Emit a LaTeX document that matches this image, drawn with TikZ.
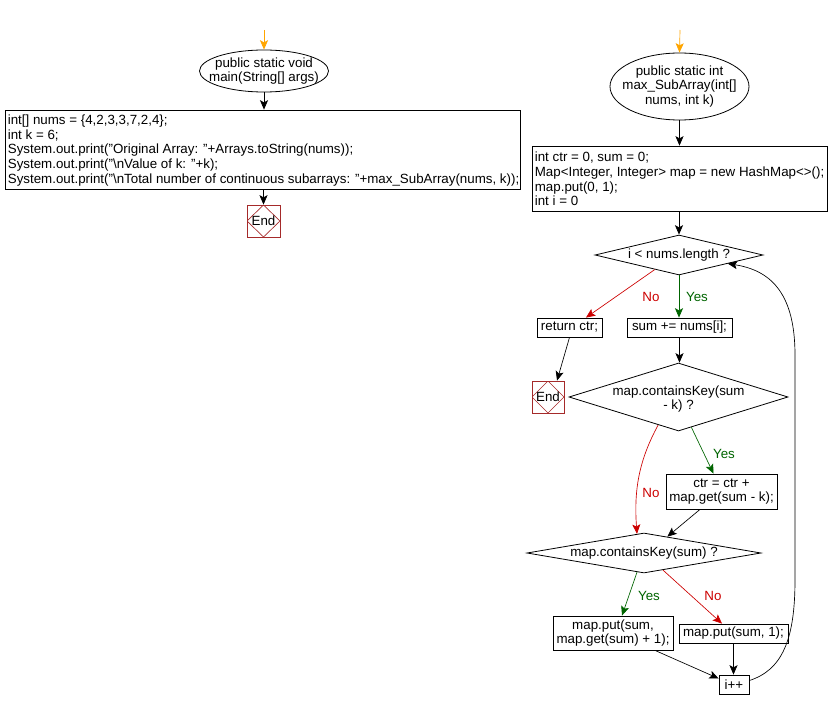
\documentclass[tikz,border=0pt]{standalone}
\usepackage{fontspec}
\setmainfont{Liberation Sans}
\usetikzlibrary{shapes.geometric,arrows.meta,calc}
\definecolor{noRed}{RGB}{204,0,0}
\definecolor{yesGreen}{RGB}{0,100,0}
\definecolor{startOrange}{RGB}{255,165,0}
\definecolor{endRed}{RGB}{165,42,42}
\tikzset{
  every node/.style={font=\fontsize{10}{10.9}\selectfont},
  box/.style={draw, rectangle, inner sep=0pt, line width=0.6pt, align=center},
  codebox/.style={draw, rectangle, inner sep=0pt, line width=0.6pt},
  codetxt/.style={inner sep=0pt, align=left, anchor=west},
  oval/.style={draw, ellipse, inner sep=0pt, line width=0.6pt},
  dec/.style={draw, diamond, inner sep=0pt, line width=0.6pt},
  txt/.style={inner sep=0pt, align=center},
  endbox/.style={draw=endRed, rectangle, minimum width=24.75pt, minimum height=24pt, inner sep=0pt, line width=0.6pt,
    path picture={\draw[endRed, line width=0.5pt] (path picture bounding box.north) -- (path picture bounding box.east) -- (path picture bounding box.south) -- (path picture bounding box.west) -- cycle;}},
  arr/.style={-{Stealth[length=7pt,width=6pt,inset=1.5pt]}, line width=0.5pt},
  lab/.style={inner sep=0pt},
}
\begin{document}
\begin{tikzpicture}[x=0.75pt,y=-0.75pt]
\useasboundingbox (0,0) rectangle (829,710);

% ---------- main ----------
\coordinate (s1) at (264,30);
\node[oval, minimum width=96.75pt, minimum height=31.5pt] (e1) at (264,71) {};
\node[txt] (e1t) at (264,71) {public static void\\main(String[] args)};
\node[codebox, minimum width=386.25pt, minimum height=59.25pt] (b1) at (262.5,149.5) {};
\node[codetxt] (b1t) at ($(b1.west)+(3,1)$)
  {int[] nums = \{4,2,3,3,7,2,4\};\\
   int k = 6;\\
   System.out.print("Original Array: "+Arrays.toString(nums));\\
   System.out.print("\textbackslash nValue of k: "+k);\\
   System.out.print("\textbackslash nTotal number of continuous subarrays: "+max\_SubArray(nums, k));};
\node[endbox] (end1) at (263.5,221) {End};

\draw[arr, startOrange] (s1) -- (e1.north);
\draw[arr] (e1.south) -- (e1.south |- b1.north);
\draw[arr] (end1.north |- b1.south) -- (end1.north);

% ---------- max_SubArray ----------
\coordinate (s2) at (680,30);
\node[oval, minimum width=104.25pt, minimum height=50.25pt] (e2) at (679.5,86.5) {};
\node[txt] (e2t) at (679.5,86.5) {public static int\\max\_SubArray(int[]\\nums, int k)};
\node[codebox, minimum width=221.25pt, minimum height=48.75pt] (b2) at (679.5,178.5) {};
\node[codetxt] (b2t) at ($(b2.west)+(3,0.5)$)
  {int ctr = 0, sum = 0;\\
   Map<Integer, Integer> map = new HashMap<>();\\
   map.put(0, 1);\\
   int i = 0};
\node[dec, minimum width=126pt, minimum height=30pt] (d1) at (679,255) {};
\node[txt] (d1t) at (679,255) {i < nums.length ?};
\node[box, minimum width=48.75pt, minimum height=14.25pt] (ret) at (569.5,327.5) {return ctr;};
\node[box, minimum width=78.75pt, minimum height=14.25pt] (sum) at (679.5,327.5) {sum += nums[i];};
\node[endbox, minimum width=24pt] (end2) at (548,397) {End};
\node[dec, minimum width=164.25pt, minimum height=51pt] (d2) at (678.5,397) {};
\node[txt] (d2t) at (678.5,399) {map.containsKey(sum\\- k) ?};
\node[box, minimum width=83.25pt, minimum height=26.25pt] (ctr) at (721.5,491.5) {ctr = ctr +\\map.get(sum - k);};
\node[dec, minimum width=175.5pt, minimum height=30pt] (d3) at (644,553) {};
\node[txt] (d3t) at (644,553) {map.containsKey(sum) ?};
\node[box, minimum width=90pt, minimum height=25.5pt] (mp2) at (613,633) {map.put(sum,\\map.get(sum) + 1);};
\node[box, minimum width=81.75pt, minimum height=14.25pt] (mp1) at (733.5,633.5) {map.put(sum, 1);};
\node[box, minimum width=22.5pt, minimum height=14.25pt] (ipp) at (734,684.5) {i++};

% labels
\node[lab, text=noRed] (l1) at (651,297) {No};
\node[lab, text=yesGreen] (l2) at (697,297) {Yes};
\node[lab, text=yesGreen] (l3) at (724,454) {Yes};
\node[lab, text=noRed] (l4) at (651,493) {No};
\node[lab, text=yesGreen] (l5) at (649,596) {Yes};
\node[lab, text=noRed] (l6) at (713,596) {No};

% connectors
\draw[arr, startOrange] (s2) -- (e2.north);
\draw[arr] (e2.south) -- (e2.south |- b2.north);
\draw[arr] (d1.north |- b2.south) -- (d1.north);
\draw[arr, noRed] (d1.211) -- ($(ret.north)!0.5!(ret.north east)$);
\draw[arr, yesGreen] (d1.south) -- (d1.south |- sum.north);
\draw[arr] (ret.south) -- ($(end2.north)!0.55!(end2.north east)$);
\draw[arr] (sum.south) -- (sum.south |- d2.north);
\draw[arr, yesGreen] (d2.293) -- ($(ctr.north)+(-8,0)$);
\draw[arr, noRed] (d2.234) .. controls (638,462) and (634,492) .. ($(d3.north)+(-7,1.2)$);
\draw[arr] ($(ctr.south)+(-21.5,0)$) -- (d3.35);
\draw[arr, yesGreen] (d3.250) -- ($(mp2.north)+(9,0)$);
\draw[arr, noRed] (d3.318) -- ($(mp1.north)+(-11.5,0)$);
\draw[arr] (mp1.south) -- (mp1.south |- ipp.north);
\draw[arr] ($(mp2.south)+(42,0)$) -- ($(ipp.west)+(0,-6)$);
\draw[arr] ($(ipp.east)+(0,-4)$) .. controls (782,670) and (795,640) .. (795,580)
  -- (795,355) .. controls (795,290) and (768,270) .. (d1.350);
\end{tikzpicture}
\end{document}
